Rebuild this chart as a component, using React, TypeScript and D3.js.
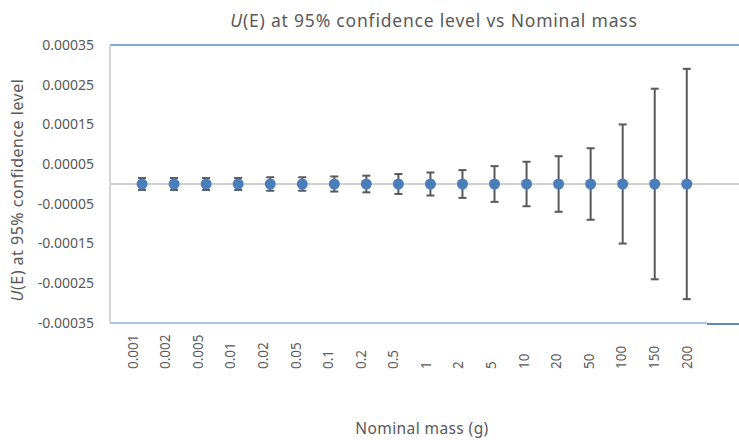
import React from 'react';
import * as d3 from 'd3';

// nominal mass categories (g)
const masses: string[] = ['0.001', '0.002', '0.005', '0.01', '0.02', '0.05', '0.1', '0.2', '0.5', '1', '2', '5', '10', '20', '50', '100', '150', '200'];
// error value E (g), all plotted on zero
const errors: number[] = [0, 0, 0, 0, 0, 0, 0, 0, 0, 0, 0, 0, 0, 0, 0, 0, 0, 0];
// expanded uncertainty U(E) at 95% (g)
const uncert: number[] = [0.000015, 0.000015, 0.000015, 0.000015, 0.000017, 0.000017, 0.000019, 0.000021, 0.000025, 0.000029, 0.000035, 0.000045, 0.000056, 0.00007, 0.00009, 0.00015, 0.00024, 0.00029];
const yTicks: number[] = [0.00035, 0.00025, 0.00015, 0.00005, -0.00005, -0.00015, -0.00025, -0.00035];

const W = 739;
const H = 440;
const left = 110;
const right = 739;
const top = 45;
const bottom = 323;
const font = '"Noto Sans", "Open Sans", sans-serif';
const textColor = '#595959';

const App: React.FC = () => {
    const x = d3.scaleLinear().domain([0, 19.63]).range([left, right]);
    const y = d3.scaleLinear().domain([-0.00035, 0.00035]).range([bottom, top]);
    // category labels drift slightly from the markers in the original
    const xl = d3.scaleLinear().domain([1, masses.length]).range([x(1) - 9, x(masses.length)]);
    const cap = 4;

    return (
        <svg width={W} height={H} style={{ position: 'absolute', left: 0, top: 0, background: '#fff' }} fontFamily={font}>
            <text x={434} y={27} textAnchor="middle" fontSize={17.5} fill={textColor} letterSpacing={0.8}>
                <tspan fontStyle="italic">U</tspan>(E) at 95% confidence level vs Nominal mass
            </text>

            {/* frame */}
            <line x1={left} x2={right} y1={top} y2={top} stroke="#5b8bd0" strokeWidth={1.5} />
            <line x1={left} x2={left} y1={top} y2={bottom} stroke="#c8c8c8" strokeWidth={1.5} />
            <line x1={left} x2={707} y1={bottom} y2={bottom} stroke="#8eb1df" strokeWidth={1.3} />
            <line x1={707} x2={right} y1={bottom + 1} y2={bottom + 1} stroke="#4a7ebb" strokeWidth={1.8} />
            <line x1={left} x2={right} y1={y(0)} y2={y(0)} stroke="#d0d0d0" strokeWidth={2} />

            {yTicks.map(t => (
                <text key={t} x={94} y={y(t)} dy="0.35em" textAnchor="end" fontSize={14} fill={textColor}>
                    {t.toFixed(5)}
                </text>
            ))}

            {masses.map((m, i) => (
                <text key={m} transform={`translate(${xl(i + 1)},369) rotate(-90)`} dy="0.35em" textAnchor="start" fontSize={13.5} fill={textColor}>
                    {m}
                </text>
            ))}

            {masses.map((m, i) => {
                const cx = x(i + 1);
                const y1 = y(errors[i] + uncert[i]);
                const y2 = y(errors[i] - uncert[i]);
                return (
                    <g key={'e' + m} stroke="#595959" strokeWidth={2}>
                        <line x1={cx} x2={cx} y1={y1} y2={y2} />
                        <line x1={cx - cap} x2={cx + cap} y1={y1} y2={y1} />
                        <line x1={cx - cap} x2={cx + cap} y1={y2} y2={y2} />
                    </g>
                );
            })}

            {masses.map((m, i) => (
                <circle key={'p' + m} cx={x(i + 1)} cy={y(errors[i])} r={5.5} fill="#4a7ebb" />
            ))}

            <text transform={`translate(23,190) rotate(-90)`} textAnchor="middle" fontSize={16} fill={textColor} letterSpacing={0.5}>
                <tspan fontStyle="italic">U</tspan>(E) at 95% confidence level
            </text>
            <text x={422} y={434} textAnchor="middle" fontSize={15.5} fill={textColor} letterSpacing={0.4}>
                Nominal mass (g)
            </text>
        </svg>
    );
};

export default App;
